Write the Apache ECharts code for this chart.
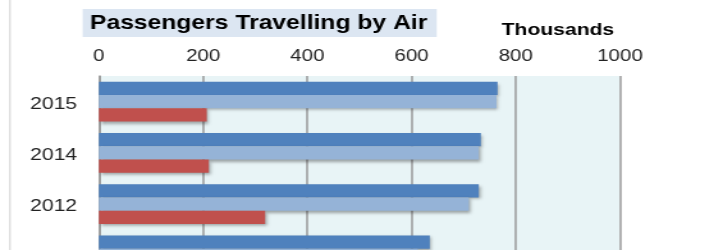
<!DOCTYPE html>
<html>
<head>
<meta charset="utf-8">
<title>Passengers Travelling by Air</title>
<script src="https://cdn.jsdelivr.net/npm/echarts@6/dist/echarts.min.js"></script>
<style>
    html, body { margin: 0; padding: 0; background: #fff; overflow: hidden; }
    /* the original picture is stretched sideways and cut off at the bottom,
       so draw it narrow and tall, then widen it */
    #main { width: 558px; height: 300px; transform: scaleX(1.2796); transform-origin: 0 0; }
</style>
</head>
<body>
<div id="main"></div>
<script>
    // data (thousands of passengers)
    var years = ['2015', '2014', '2012', '2010'];
    var seriesNames = ['Series 1', 'Series 2', 'Series 3'];
    var darkBlue = [765, 733, 729, 635];
    var lightBlue = [763, 729, 710, 612];
    var red = [207, 211, 319, 330];
    var xTicks = [0, 200, 400, 600, 800, 1000];

    var colors = ['#4F81BD', '#95B3D7', '#C0504D'];
    var values = [darkBlue, lightBlue, red];

    var myChart = echarts.init(document.getElementById('main'));

    var series = values.map(function (v, i) {
        return {
            name: seriesNames[i],
            type: 'bar',
            data: v,
            barWidth: 13.3,
            barGap: '0%',
            itemStyle: {
                color: colors[i],
                shadowColor: 'rgba(0,0,0,0.35)',
                shadowBlur: 3,
                shadowOffsetX: 1.5,
                shadowOffsetY: 2
            }
        };
    });

    myChart.setOption({
        animation: false,
        grid: {
            left: 77.3,
            top: 76,
            width: 407.2,
            height: 205,
            show: true,
            backgroundColor: '#E8F4F6',
            borderWidth: 0
        },
        xAxis: {
            type: 'value',
            position: 'top',
            min: xTicks[0],
            max: xTicks[xTicks.length - 1],
            interval: 200,
            axisLine: { show: false },
            axisTick: { show: false },
            axisLabel: {
                margin: 11,
                color: '#222',
                fontFamily: 'Liberation Sans, Arial, sans-serif',
                fontSize: 16,
                formatter: function (v) { return String(v); }
            },
            splitLine: { lineStyle: { color: '#9a9a9a', width: 1.5 } }
        },
        yAxis: {
            type: 'category',
            inverse: true,
            data: years,
            axisLine: { show: true, lineStyle: { color: '#9a9a9a', width: 1.5 } },
            axisTick: { show: false },
            axisLabel: {
                margin: 17,
                formatter: function (v) { return '{y|' + v + '}'; },
                rich: {
                    y: {
                        color: '#222',
                        fontFamily: 'Liberation Sans, Arial, sans-serif',
                        fontSize: 16.5,
                        padding: [5, 0, 0, 0]
                    }
                }
            }
        },
        series: series,
        graphic: [
            {
                type: 'line',
                shape: { x1: 7.8, y1: 0, x2: 7.8, y2: 300 },
                style: { stroke: '#cfcfcf', lineWidth: 1 }
            },
            {
                type: 'rect',
                shape: { x: 64.6, y: 9, width: 276.7, height: 28 },
                style: { fill: '#DCE6F2' }
            },
            {
                type: 'text',
                left: 70.3,
                top: 14,
                style: {
                    text: 'Passengers Travelling by Air',
                    fill: '#000',
                    font: 'bold 19.3px "Liberation Sans", Arial, sans-serif'
                }
            },
            {
                type: 'text',
                left: 392,
                top: 22,
                style: {
                    text: 'Thousands',
                    fill: '#000',
                    font: 'bold 16.5px "Liberation Sans", Arial, sans-serif'
                }
            }
        ]
    });
</script>
</body>
</html>
